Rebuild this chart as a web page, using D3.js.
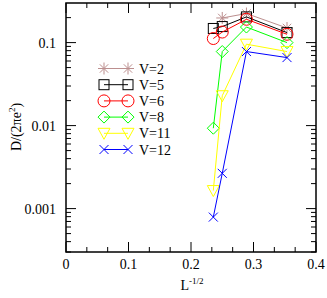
<!DOCTYPE html>
<html>
<head>
<meta charset="utf-8">
<script src="https://cdn.jsdelivr.net/npm/d3@7"></script>
<style>
  html, body { margin: 0; padding: 0; background: #fff; }
</style>
</head>
<body>
<div id="chart"></div>
<script>
// data: x = L^-1/2, y = D/(2 pi e^2)
const xVals = [0.2357, 0.25, 0.2887, 0.3536];
const labels = ['V=2', 'V=5', 'V=6', 'V=8', 'V=11', 'V=12'];
const v2  = [null, 0.198, 0.224, 0.150];
const v5  = [0.148, 0.156, 0.204, 0.132];
const v6  = [0.112, 0.134, 0.191, 0.126];
const v8  = [0.0093, 0.078, 0.154, 0.100];
const v11 = [0.00165, 0.0229, 0.0957, 0.078];
const v12 = [0.00079, 0.00266, 0.078, 0.066];
const colors = ['#bc8f8f', '#000000', '#ff0000', '#00ff00', '#ffff00', '#0000ff'];
const symbols = ['star', 'square', 'circle', 'diamond', 'triangle', 'cross'];
const xTicks = [0, 0.1, 0.2, 0.3, 0.4];
const yTicks = [0.001, 0.01, 0.1];

const W = 327, H = 298;
const m = { left: 66, right: 11, top: 3, bottom: 46 };
const FONT = "'Liberation Serif', 'Times New Roman', Times, serif";

const svg = d3.select('#chart').append('svg').attr('width', W).attr('height', H)
  .attr('font-family', FONT);

const x = d3.scaleLinear().domain([0, 0.4]).range([m.left, W - m.right]);
const y = d3.scaleLog().domain([0.0003, 0.3]).range([H - m.bottom, m.top]);

// minor ticks
const xMinor = d3.range(0, 0.4001, 0.1 / 3).filter(v => Math.abs(v * 10 - Math.round(v * 10)) > 1e-6);
const yMinor = [];
[0.0001, 0.001, 0.01, 0.1].forEach(d => { for (let k = 2; k <= 9; k++) { const v = d * k; if (v >= 0.0003 && v <= 0.3) yMinor.push(v); } });

const axisG = svg.append('g').attr('stroke', '#000').attr('stroke-width', 1);
function tickLines(vals, len, horizontal) {
  vals.forEach(v => {
    if (horizontal) {
      const px = x(v);
      axisG.append('line').attr('x1', px).attr('x2', px).attr('y1', y.range()[0]).attr('y2', y.range()[0] - len);
      axisG.append('line').attr('x1', px).attr('x2', px).attr('y1', y.range()[1]).attr('y2', y.range()[1] + len);
    } else {
      const py = y(v);
      axisG.append('line').attr('y1', py).attr('y2', py).attr('x1', x.range()[0]).attr('x2', x.range()[0] + len);
      axisG.append('line').attr('y1', py).attr('y2', py).attr('x1', x.range()[1]).attr('x2', x.range()[1] - len);
    }
  });
}
tickLines(xTicks, 10, true);
tickLines(xMinor, 5, true);
tickLines(yTicks, 10, false);
tickLines(yMinor, 5, false);

svg.append('rect')
  .attr('x', x.range()[0]).attr('y', y.range()[1])
  .attr('width', x.range()[1] - x.range()[0]).attr('height', y.range()[0] - y.range()[1])
  .attr('fill', 'none').attr('stroke', '#000').attr('stroke-width', 1.5);

// tick labels
svg.append('g').selectAll('text').data(xTicks).enter().append('text')
  .attr('x', d => x(d)).attr('y', y.range()[0] + 17)
  .attr('text-anchor', 'middle').attr('font-size', 14)
  .text(d => d === 0 ? '0' : d3.format('.1f')(d));

svg.append('g').selectAll('text').data(yTicks).enter().append('text')
  .attr('x', x.range()[0] - 10).attr('y', d => y(d) + 5)
  .attr('text-anchor', 'end').attr('font-size', 14)
  .text(d => String(d));

// axis titles
const xt = svg.append('text').attr('x', 192).attr('y', 290).attr('text-anchor', 'middle').attr('font-size', 14);
xt.append('tspan').text('L');
xt.append('tspan').attr('dy', -6).attr('font-size', 9).text('-1/2');

const yt = svg.append('text').attr('transform', 'translate(21,127) rotate(-90)').attr('text-anchor', 'middle').attr('font-size', 14);
yt.append('tspan').text('D/(2\u03c0e');
yt.append('tspan').attr('dy', -6).attr('font-size', 9).text('2');
yt.append('tspan').attr('dy', 6).text(')');

// symbol drawer
function drawSymbol(g, type, cx, cy, color) {
  const s = g.append('g').attr('transform', `translate(${cx},${cy})`)
    .attr('fill', 'none').attr('stroke', color).attr('stroke-width', 1);
  if (type === 'circle') s.append('circle').attr('r', 6);
  else if (type === 'square') s.append('rect').attr('x', -5).attr('y', -5).attr('width', 10).attr('height', 10);
  else if (type === 'diamond') s.append('path').attr('d', 'M0,-6L6,0L0,6L-6,0Z');
  else if (type === 'triangle') s.append('path').attr('d', 'M-6,-5L6,-5L0,6Z');
  else if (type === 'cross') s.append('path').attr('d', 'M-4.5,-4.5L4.5,4.5M-4.5,4.5L4.5,-4.5');
  else if (type === 'star') s.append('path').attr('d', 'M0,-6V6M-6,0H6M-4.2,-4.2L4.2,4.2M-4.2,4.2L4.2,-4.2');
}

const series = [v2, v5, v6, v8, v11, v12];
const line = d3.line().x(d => x(d[0])).y(d => y(d[1]));

series.forEach((vals, i) => {
  const pts = xVals.map((xv, j) => [xv, vals[j]]).filter(d => d[1] != null);
  const g = svg.append('g');
  g.append('path').datum(pts).attr('d', line).attr('fill', 'none').attr('stroke', colors[i]).attr('stroke-width', 1);
  pts.forEach(p => drawSymbol(g, symbols[i], x(p[0]), y(p[1]), colors[i]));
});

// legend
const lg = svg.append('g');
labels.forEach((lab, i) => {
  const ly = 68.5 + i * 16.2;
  lg.append('line').attr('x1', 104).attr('x2', 128).attr('y1', ly).attr('y2', ly).attr('stroke', colors[i]).attr('stroke-width', 1);
  drawSymbol(lg, symbols[i], 104, ly, colors[i]);
  drawSymbol(lg, symbols[i], 128, ly, colors[i]);
  lg.append('text').attr('x', 139).attr('y', ly + 5).attr('font-size', 14).text(lab);
});
</script>
</body>
</html>
